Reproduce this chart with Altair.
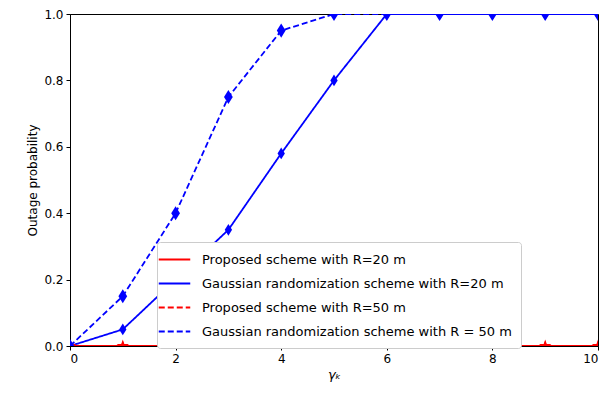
import altair as alt
import pandas as pd

x_vals = [0, 1, 2, 3, 4, 5, 6, 7, 8, 9, 10]
proposed_r20 = [0, 0, 0, 0, 0, 0, 0, 0, 0, 0, 0]
gaussian_r20 = [0, 0.05, 0.20, 0.35, 0.58, 0.80, 1.0, 1.0, 1.0, 1.0, 1.0]
proposed_r50 = [0, 0, 0, 0, 0, 0, 0, 0, 0, 0, 0]
gaussian_r50 = [0, 0.15, 0.40, 0.75, 0.95, 1.0, 1.0, 1.0, 1.0, 1.0, 1.0]

series_names = [
    "Proposed scheme with R=20 m",
    "Gaussian randomization scheme with R=20 m",
    "Proposed scheme with R=50 m",
    "Gaussian randomization scheme with R = 50 m",
]
series_values = [proposed_r20, gaussian_r20, proposed_r50, gaussian_r50]
colors = ["#ff0000", "#0000ff", "#ff0000", "#0000ff"]
dashes = [[1, 0], [1, 0], [6, 3], [6, 3]]
star = ("M0,-1L0.235,-0.324L0.951,-0.309L0.38,0.124L0.588,0.809L0,0.4"
        "L-0.588,0.809L-0.38,0.124L-0.951,-0.309L-0.235,-0.324Z")
diamond = "M0,-1L0.62,0L0,1L-0.62,0Z"
shapes = [star, diamond, star, diamond]
marker_sizes = [110, 200, 110, 200]

rows = []
for name, vals in zip(series_names, series_values):
    for xv, yv in zip(x_vals, vals):
        rows.append({"xv": xv, "yv": yv, "series": name})
df = pd.DataFrame(rows)

xenc = alt.X("xv:Q", scale=alt.Scale(domain=[0, 10], nice=False),
             axis=alt.Axis(values=[0, 2, 4, 6, 8, 10], title="γₖ",
                           titleFontStyle="italic", titleFontSize=13))
yenc = alt.Y("yv:Q", scale=alt.Scale(domain=[0, 1], nice=False),
             axis=alt.Axis(values=[0, 0.2, 0.4, 0.6, 0.8, 1.0], format=".1f",
                           title="Outage probability"))

lines = alt.Chart(df).mark_line(strokeWidth=1.8, clip=True).encode(
    x=xenc, y=yenc,
    color=alt.Color("series:N", scale=alt.Scale(domain=series_names, range=colors), title=""),
    strokeDash=alt.StrokeDash("series:N", scale=alt.Scale(domain=series_names, range=dashes),
                              title=""),
)

points = alt.Chart(df).mark_point(filled=True, opacity=1, clip=True).encode(
    x=xenc, y=yenc,
    color=alt.Color("series:N", scale=alt.Scale(domain=series_names, range=colors), legend=None),
    shape=alt.Shape("series:N", scale=alt.Scale(domain=series_names, range=shapes), legend=None),
    size=alt.Size("series:N", scale=alt.Scale(domain=series_names, range=marker_sizes), legend=None),
)

chart = alt.layer(lines, points).resolve_scale(
    color="independent", strokeDash="independent"
).resolve_legend(
    color="independent", strokeDash="independent"
).properties(
    width=528, height=332,
    autosize=alt.AutoSizeParams(type="none"),
    padding={"left": 62, "top": 6, "right": 5, "bottom": 40},
).configure_view(stroke="black", strokeWidth=1).configure_axis(
    grid=False, domainColor="black", tickColor="black", tickSize=4,
    labelFont="DejaVu Sans", labelFontSize=12, labelColor="black",
    titleFont="DejaVu Sans", titleFontSize=12, titleColor="black",
    titleFontWeight="normal", labelPadding=3,
).configure_legend(
    orient="none", legendX=87, legendY=228,
    symbolType="M-2.1,0H2.1", symbolSize=225, symbolStrokeWidth=2,
    labelFontSize=13, labelFont="DejaVu Sans", labelColor="black",
    labelLimit=500, rowPadding=8, labelOffset=19, titlePadding=0,
    fillColor="white", strokeColor="#cccccc", cornerRadius=3, padding=9,
)

chart.save("out.html", embed_options={"renderer": "svg", "actions": False})
